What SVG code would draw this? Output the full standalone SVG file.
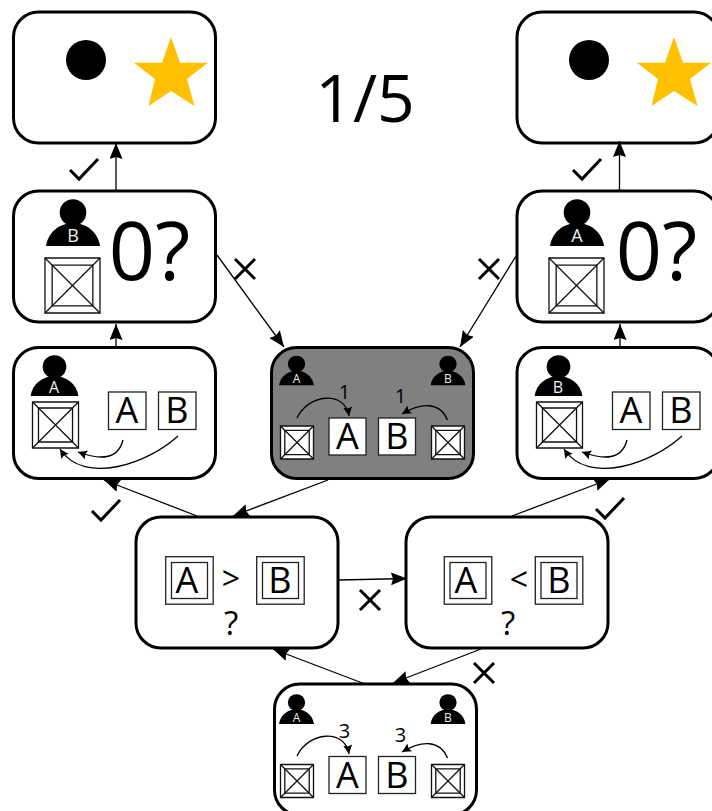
<svg xmlns="http://www.w3.org/2000/svg" xmlns:xlink="http://www.w3.org/1999/xlink" width="712" height="811" viewBox="0 0 712 811">
<style>
text{font-family:"Open Sans","Noto Sans","DejaVu Sans",sans-serif;fill:#000;text-anchor:middle;font-weight:400}
.box{fill:#fff;stroke:#000;stroke-width:3}
.tile{fill:#fff;stroke:#222;stroke-width:1.3}
.conn{fill:none;stroke:#000;stroke-width:1.3}
.curve{fill:none;stroke:#000;stroke-width:1.3}
.mark{fill:none;stroke:#000;stroke-width:3}
.crate *{vector-effect:non-scaling-stroke;fill:none;stroke:#111;stroke-width:1.3}
.crate .o{fill:#fff}
.pl{fill:#eee}
.t{font-size:36px}
</style>
<defs>
<marker id="ah" markerUnits="userSpaceOnUse" markerWidth="18" markerHeight="14" refX="16" refY="6.5" orient="auto"><path d="M0 0L16 6.500L0 13L2 6.500Z" fill="#000"/></marker>
<marker id="ahs" markerUnits="userSpaceOnUse" markerWidth="10" markerHeight="10" refX="9" refY="4.500" orient="auto"><path d="M0 0L9 4.500L0 9L1.500 4.500Z" fill="#000"/></marker>
<symbol id="person" viewBox="0 0 54 47" preserveAspectRatio="none"><circle cx="27" cy="13.500" r="13.300" fill="#000"/><path d="M0 47C2 33 14 24 27 24S52 33 54 47Z" fill="#000"/></symbol>
<symbol id="crate" viewBox="0 0 100 100" preserveAspectRatio="none" overflow="visible"><g class="crate"><rect class="o" x="0" y="0" width="100" height="100"/><rect x="13" y="13" width="74" height="74"/><path d="M0 0L100 100M100 0L0 100"/></g></symbol>
<g id="check"><path class="mark" d="M0 11L9 20L28 0"/></g>
<g id="cross"><path class="mark" d="M0 0L20 20M20 0L0 20"/></g>
</defs>

<text id="title" x="365" y="122" font-size="66">1/5</text>

<g id="result-left">
<rect class="box" x="13.500" y="12" width="202" height="131" rx="25"/>
<circle cx="86" cy="60" r="20" fill="#000"/>
<path fill="#ffc000" d="M171 37L180 62.700H208L187 79L194.500 106L171 91L148.500 106L155 79L134 62.700H162Z"/>
</g>
<g id="result-right">
<rect class="box" x="517" y="12" width="202" height="131" rx="25"/>
<circle cx="589" cy="60" r="20" fill="#000"/>
<path fill="#ffc000" d="M674 37L683 62.700H711L690 79L697.500 106L674 91L651.500 106L658 79L637 62.700H665Z"/>
</g>

<g id="query-left">
<rect class="box" x="13.500" y="191" width="202" height="131" rx="25"/>
<use href="#person" x="46" y="199" width="54" height="47"/>
<text class="pl" x="73" y="242" font-size="18">B</text>
<use href="#crate" x="45" y="258" width="55" height="55"/>
<text x="149.500" y="280" font-size="81">0?</text>
</g>
<g id="query-right">
<rect class="box" x="517" y="191" width="202" height="131" rx="25"/>
<use href="#person" x="550" y="199" width="54" height="47"/>
<text class="pl" x="577" y="242" font-size="18">A</text>
<use href="#crate" x="549" y="258" width="55" height="55"/>
<text x="656.500" y="280" font-size="81">0?</text>
</g>

<g id="assign-left">
<rect class="box" x="13.500" y="347.500" width="202" height="131" rx="25"/>
<use href="#person" x="30.500" y="355" width="48" height="41"/>
<text class="pl" x="54" y="393" font-size="16">A</text>
<use href="#crate" x="32.500" y="402" width="46" height="46"/>
<rect class="tile" x="108.500" y="392" width="37.500" height="37.500"/>
<text class="t" x="127" y="423">A</text>
<rect class="tile" x="158.500" y="392" width="37.500" height="37.500"/>
<text class="t" x="177" y="423">B</text>
<path class="curve" marker-end="url(#ahs)" d="M123 440C118 460 100 460 78 452"/>
<path class="curve" marker-end="url(#ahs)" d="M178 436C150 462 85 487 60 449"/>
</g>
<g id="assign-right">
<rect class="box" x="517" y="347.500" width="202" height="131" rx="25"/>
<use href="#person" x="534.500" y="355" width="48" height="41"/>
<text class="pl" x="558" y="393" font-size="16">B</text>
<use href="#crate" x="536.500" y="402" width="46" height="46"/>
<rect class="tile" x="612.500" y="392" width="37.500" height="37.500"/>
<text class="t" x="631" y="423">A</text>
<rect class="tile" x="662.500" y="392" width="37.500" height="37.500"/>
<text class="t" x="681" y="423">B</text>
<path class="curve" marker-end="url(#ahs)" d="M627 440C622 460 604 460 582 452"/>
<path class="curve" marker-end="url(#ahs)" d="M682 436C654 462 589 487 564 449"/>
</g>

<g id="current">
<rect class="box" x="271.500" y="347.500" width="202" height="131" rx="25" style="fill:#808080"/>
<use href="#person" x="279" y="355.500" width="35" height="30"/>
<text class="pl" x="296.500" y="383" font-size="12">A</text>
<use href="#person" x="430.500" y="355.500" width="35" height="30"/>
<text class="pl" x="448" y="383" font-size="12">B</text>
<use href="#crate" x="280.500" y="426" width="33" height="33"/>
<use href="#crate" x="431.500" y="426" width="33" height="33"/>
<rect class="tile" x="329" y="418" width="37" height="37"/>
<text class="t" x="347.500" y="449">A</text>
<rect class="tile" x="378.500" y="418" width="37" height="37"/>
<text class="t" x="397" y="449">B</text>
<text x="344.500" y="399" font-size="20">1</text>
<text x="400.500" y="403" font-size="20">1</text>
<path class="curve" marker-end="url(#ahs)" d="M297 418C308 394 345 390 349 416"/>
<path class="curve" marker-end="url(#ahs)" d="M447.500 420C440 402 422 402 402 414"/>
</g>

<g id="compare-gt">
<rect class="box" x="136" y="517" width="202" height="131" rx="25"/>
<rect class="tile" x="165.700" y="556.700" width="47.500" height="47.500"/>
<rect class="tile" x="171.500" y="562.500" width="36" height="36"/>
<text class="t" x="187" y="593">A</text>
<rect class="tile" x="256.700" y="556.700" width="47.500" height="47.500"/>
<rect class="tile" x="262.500" y="562.500" width="36" height="36"/>
<text class="t" x="280" y="593">B</text>
<text x="231" y="589.500" font-size="32">&gt;</text>
<text x="231" y="634.500" font-size="33">?</text>
</g>
<g id="compare-lt">
<rect class="box" x="406" y="517" width="202" height="131" rx="25"/>
<rect class="tile" x="444.300" y="556.700" width="47.500" height="47.500"/>
<rect class="tile" x="450" y="562.500" width="36" height="36"/>
<text class="t" x="466" y="593">A</text>
<rect class="tile" x="535.300" y="556.700" width="47.500" height="47.500"/>
<rect class="tile" x="541" y="562.500" width="36" height="36"/>
<text class="t" x="559" y="593">B</text>
<text x="519" y="591" font-size="32">&lt;</text>
<text x="508" y="634.500" font-size="33">?</text>
</g>

<g id="start">
<rect class="box" x="274.500" y="684" width="202" height="131" rx="25"/>
<use href="#person" x="279" y="694" width="35" height="30"/>
<text class="pl" x="296.500" y="722" font-size="12">A</text>
<use href="#person" x="430.500" y="694" width="35" height="30"/>
<text class="pl" x="448" y="722" font-size="12">B</text>
<use href="#crate" x="280.500" y="764.500" width="33" height="33"/>
<use href="#crate" x="431.500" y="764.500" width="33" height="33"/>
<rect class="tile" x="329" y="756.500" width="37" height="37"/>
<text class="t" x="347.500" y="787.500">A</text>
<rect class="tile" x="378.500" y="756.500" width="37" height="37"/>
<text class="t" x="397" y="787.500">B</text>
<text x="344.500" y="738" font-size="20">3</text>
<text x="400.500" y="742" font-size="20">3</text>
<path class="curve" marker-end="url(#ahs)" d="M297 756C308 732 345 728 349 754"/>
<path class="curve" marker-end="url(#ahs)" d="M447.500 758C440 740 422 740 402 752"/>
</g>

<g id="connectors">
<path class="conn" marker-end="url(#ah)" d="M116 190V143"/>
<path class="conn" marker-end="url(#ah)" d="M619.500 190V141"/>
<path class="conn" marker-end="url(#ah)" d="M116 347V324"/>
<path class="conn" marker-end="url(#ah)" d="M620 347V324"/>
<path class="conn" marker-end="url(#ah)" d="M217 255L284 347"/>
<path class="conn" marker-end="url(#ah)" d="M516 256L460 347"/>
<path class="conn" marker-end="url(#ah)" d="M197 516L104 480"/>
<path class="conn" marker-end="url(#ah)" d="M512 516L610 479"/>
<path class="conn" marker-end="url(#ah)" d="M328 480L233 516"/>
<path class="conn" marker-end="url(#ah)" d="M339 580L407 578.500"/>
<path class="conn" marker-end="url(#ah)" d="M365 684L273 649"/>
<path class="conn" marker-end="url(#ah)" d="M481 649L393 683"/>
</g>

<g id="labels">
<use href="#check" x="70" y="159"/>
<use href="#check" x="573" y="159"/>
<use href="#check" x="92" y="500"/>
<use href="#check" x="596" y="498"/>
<use href="#cross" x="235" y="259"/>
<use href="#cross" x="479" y="259"/>
<use href="#cross" x="360" y="590"/>
<use href="#cross" x="474" y="663"/>
</g>
</svg>
